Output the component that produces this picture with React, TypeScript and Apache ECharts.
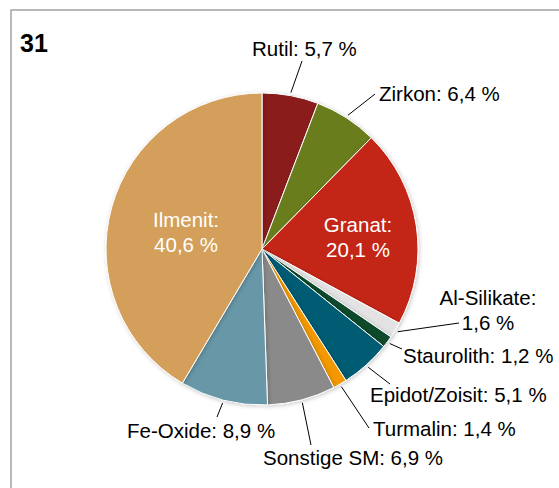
import React, { useEffect, useRef } from "react";
import * as echarts from "echarts";

const categories = [
  "Rutil",
  "Zirkon",
  "Granat",
  "Al-Silikate",
  "Staurolith",
  "Epidot/Zoisit",
  "Turmalin",
  "Sonstige SM",
  "Fe-Oxide",
  "Ilmenit",
];
const values = [5.7, 6.4, 20.1, 1.6, 1.2, 5.1, 1.4, 6.9, 8.9, 40.6];
const colors = [
  "#8a1b1b",
  "#6b7d1b",
  "#c32713",
  "#e3e3e3",
  "#0b4a2b",
  "#005c73",
  "#f39800",
  "#8a8a8a",
  "#6897a7",
  "#d39f5a",
];
const insideLabels = ["Granat", "Ilmenit"];
const twoLineLabels = ["Granat", "Ilmenit", "Al-Silikate"];
const title = "31";

// label layout (positions of label texts and leader-line ends)
const CX = 262;
const CY = 249;
const R = 156;
const labelLayouts: Record<string, { x: number; y: number; align: string; end?: [number, number] }> = {
  Rutil: { x: 252, y: 48, align: "left", end: [302, 61] },
  Zirkon: { x: 379, y: 93.5, align: "left", end: [375, 94] },
  Granat: { x: 358, y: 236.5, align: "center" },
  "Al-Silikate": { x: 488, y: 310, align: "center", end: [459, 323] },
  Staurolith: { x: 403, y: 355, align: "left", end: [402, 349] },
  "Epidot/Zoisit": { x: 370, y: 394.5, align: "left", end: [390, 384] },
  Turmalin: { x: 373, y: 428, align: "left", end: [369, 428] },
  "Sonstige SM": { x: 263, y: 457, align: "left", end: [311, 445] },
  "Fe-Oxide": { x: 127, y: 430, align: "left", end: [217, 417] },
  Ilmenit: { x: 186, y: 231.5, align: "center" },
};

const fmt = (v: number) => v.toFixed(1).replace(".", ",") + " %";

export default function App() {
  const ref = useRef<HTMLDivElement>(null);
  useEffect(() => {
    if (!ref.current) return;
    const chart = echarts.init(ref.current, null, { renderer: "svg" });
    const total = values.reduce((a, b) => a + b, 0);
    const midAngles: number[] = [];
    let acc = 0;
    values.forEach((v) => {
      midAngles.push(((acc + v / 2) / total) * Math.PI * 2);
      acc += v;
    });

    const data = categories.map((name, i) => {
      const inside = insideLabels.includes(name);
      return {
        name,
        value: values[i],
        itemStyle: { color: colors[i] },
        label: {
          position: inside ? "inside" : "outside",
          color: inside ? "#ffffff" : "#000000",
        },
        labelLine: { show: !inside },
      };
    });

    chart.setOption({
      animation: false,
      graphic: [
        {
          type: "rect",
          shape: { x: 11, y: 10, width: 700, height: 700 },
          style: { fill: "none", stroke: "#a3a3a3", lineWidth: 1.5 },
          z: 0,
        },
        {
          type: "text",
          left: 20,
          top: 30,
          style: {
            text: title,
            font: "bold 25px 'Liberation Sans', Arial, sans-serif",
            fill: "#000",
          },
        },
      ],
      series: [
        {
          type: "pie",
          center: [CX, CY],
          radius: [0, R],
          startAngle: 90,
          clockwise: true,
          avoidLabelOverlap: false,
          emphasis: { disabled: true },
          itemStyle: {
            borderColor: "#ffffff",
            borderWidth: 1,
            shadowBlur: 4,
            shadowColor: "rgba(0,0,0,0.22)",
            shadowOffsetX: 1,
            shadowOffsetY: 1,
          },
          label: {
            fontFamily: "'Liberation Sans', Arial, sans-serif",
            fontSize: 20.5,
            lineHeight: 25,
            formatter: (p: any) =>
              twoLineLabels.includes(p.name)
                ? `${p.name}:\n${fmt(p.value)}`
                : `${p.name}: ${fmt(p.value)}`,
          },
          labelLine: {
            show: true,
            length: 10,
            length2: 0,
            smooth: false,
            lineStyle: { color: "#000000", width: 1 },
          },
          labelLayout: (params: any) => {
            const i = params.dataIndex;
            const name = categories[i];
            const L = labelLayouts[name];
            if (!L) return {};
            const out: any = {
              x: L.x,
              y: L.y,
              align: L.align,
              verticalAlign: "middle",
            };
            if (L.end) {
              const a = midAngles[i];
              const rr = R + 3;
              const start = [CX + rr * Math.sin(a), CY - rr * Math.cos(a)];
              out.labelLinePoints = [start, L.end];
            }
            return out;
          },
          data,
        },
      ],
    });
    return () => chart.dispose();
  }, []);
  return (
    <div
      ref={ref}
      style={{ position: "fixed", left: 0, top: 0, width: 559, height: 488, background: "#fff" }}
    />
  );
}
